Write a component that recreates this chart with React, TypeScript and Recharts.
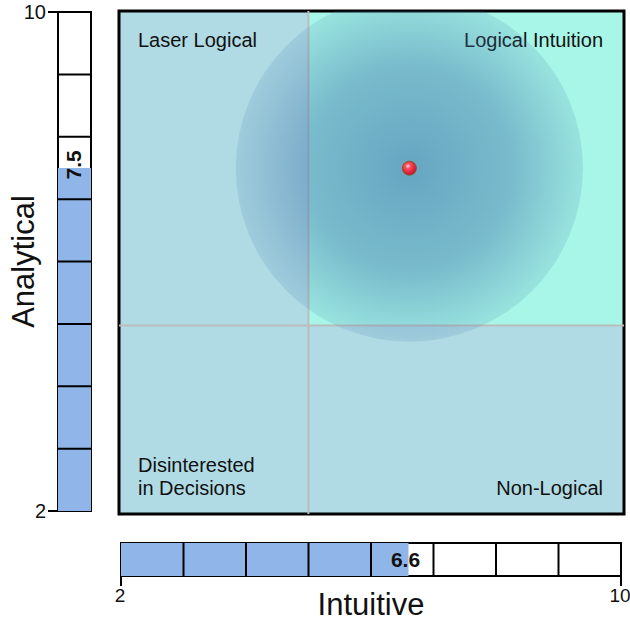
import React from 'react';
import {
  ScatterChart,
  Scatter,
  XAxis,
  YAxis,
  ReferenceArea,
  ReferenceLine,
  BarChart,
  Bar,
  LabelList,
  Label,
} from 'recharts';

// ---------- data ----------
const scaleDomain: [number, number] = [2, 10];
const scaleTicks = [2, 10];
const segmentBoundaries = [3, 4, 5, 6, 7, 8, 9];
const quadrantSplit = 5;
const intuitiveScore = 6.6;
const analyticalScore = 7.5;
const spreadRadius = 2.75;

const resultPoint = [{ intuitive: intuitiveScore, analytical: analyticalScore }];
const analyticalBar = [{ name: 'Analytical', value: analyticalScore }];
const intuitiveBar = [{ name: 'Intuitive', value: intuitiveScore }];

const quadrantNames = ['Laser Logical', 'Logical Intuition', 'Disinterested\nin Decisions', 'Non-Logical'];
const quadrantX = [[2, 5], [5, 10], [2, 5], [5, 10]];
const quadrantY = [[5, 10], [5, 10], [2, 5], [2, 5]];
const quadrantCorner = ['tl', 'tr', 'bl', 'br'];
const quadrantFill = ['#b0dbe4', '#a8f6e7', '#b0dbe4', '#b0dbe4'];

// ---------- layout ----------
const FONT = '"Liberation Sans", Arial, Helvetica, sans-serif';
const MAIN_W = 630;
const MAIN_H = 530;
const mainMargin = { top: 11, right: 6, bottom: 16, left: 119 };
const plotW = MAIN_W - mainMargin.left - mainMargin.right;
const pxPerUnit = plotW / (scaleDomain[1] - scaleDomain[0]);
const BAR_FILL = '#90b5e9';

const SpreadShape = (props: any) => {
  const { cx, cy } = props;
  const r = spreadRadius * pxPerUnit;
  return (
    <g>
      <defs>
        <radialGradient id="spreadGrad" cx="50%" cy="50%" r="50%">
          <stop offset="0" stopColor="#4278ad" stopOpacity={0.64} />
          <stop offset="0.6" stopColor="#4278ad" stopOpacity={0.46} />
          <stop offset="1" stopColor="#4278ad" stopOpacity={0.15} />
        </radialGradient>
      </defs>
      <circle cx={cx} cy={cy} r={r} fill="url(#spreadGrad)" />
    </g>
  );
};

const PointShape = (props: any) => {
  const { cx, cy } = props;
  return (
    <g>
      <defs>
        <radialGradient id="redBall" cx="40%" cy="35%" r="65%">
          <stop offset="0" stopColor="#ffe0e0" />
          <stop offset="0.3" stopColor="#ff4a5c" />
          <stop offset="1" stopColor="#c4102a" />
        </radialGradient>
      </defs>
      <circle cx={cx} cy={cy} r={7} fill="url(#redBall)" stroke="#8a5a2b" strokeWidth={1} />
    </g>
  );
};

const makeQuadLabel = (text: string, corner: string) => (props: any) => {
  const vb = props.viewBox || {};
  const lines = text.split('\n');
  const isLeft = corner[1] === 'l';
  const isTop = corner[0] === 't';
  const x = isLeft ? vb.x + 19 : vb.x + vb.width - 21;
  const lineH = 23;
  const baseY = isTop ? vb.y + 36 : vb.y + vb.height - 19 - (lines.length - 1) * lineH;
  return (
    <text
      x={x}
      y={baseY}
      textAnchor={isLeft ? 'start' : 'end'}
      fontFamily={FONT}
      fontSize={20}
      fill="#111"
    >
      {lines.map((l, i) => (
        <tspan key={i} x={x} y={baseY + i * lineH}>
          {l}
        </tspan>
      ))}
    </text>
  );
};

const VerticalValueLabel = (props: any) => {
  const { x, y, width, value } = props;
  const cx = Number(x) + Number(width) / 2 - 1;
  const cy = Number(y) - 3;
  return (
    <text
      x={cx}
      y={cy}
      transform={`rotate(-90 ${cx} ${cy})`}
      textAnchor="middle"
      dominantBaseline="central"
      fontFamily={FONT}
      fontWeight="bold"
      fontSize={21}
      fill="#111"
    >
      {value}
    </text>
  );
};

const HorizontalValueLabel = (props: any) => {
  const { x, y, width, height, value } = props;
  const cx = Number(x) + Number(width) - 3;
  const cy = Number(y) + Number(height) / 2;
  return (
    <text
      x={cx}
      y={cy}
      textAnchor="middle"
      dominantBaseline="central"
      fontFamily={FONT}
      fontWeight="bold"
      fontSize={21}
      fill="#111"
    >
      {value}
    </text>
  );
};

const AnalyticalTitle = (props: any) => {
  const vb = props.viewBox || {};
  const x = vb.x + 34;
  const y = vb.y + vb.height / 2;
  return (
    <text
      x={x}
      y={y}
      transform={`rotate(-90 ${x} ${y})`}
      textAnchor="middle"
      fontFamily={FONT}
      fontSize={31}
      fill="#111"
    >
      Analytical
    </text>
  );
};

const IntuitiveTitle = (props: any) => {
  const vb = props.viewBox || {};
  const x = vb.x + vb.width / 2;
  const y = vb.y + vb.height + 21;
  return (
    <text x={x} y={y} textAnchor="middle" fontFamily={FONT} fontSize={31} fill="#111">
      Intuitive
    </text>
  );
};

const tickStyle = { fill: '#111', fontSize: 20, fontFamily: FONT };
const bottomTickStyle = { fill: '#111', fontSize: 19, fontFamily: FONT, dx: -1 };
const tickLineStyle = { stroke: '#000', strokeWidth: 2 };

export default function App() {
  return (
    <div style={{ position: 'absolute', left: 0, top: 0, width: 630, height: 621, fontFamily: FONT, background: '#fff' }}>
      {/* Left vertical bar: Analytical */}
      <div style={{ position: 'absolute', left: 0, top: 0 }}>
        <BarChart
          width={100}
          height={530}
          data={analyticalBar}
          margin={{ top: 12, right: 9, bottom: 19, left: 0 }}
          barCategoryGap={0}
        >
          <XAxis dataKey="name" type="category" hide />
          <YAxis
            type="number"
            domain={scaleDomain}
            ticks={scaleTicks}
            interval={0}
            width={58}
            axisLine={false}
            tickSize={10}
            tickLine={tickLineStyle}
            tick={tickStyle}
          >
            <Label content={AnalyticalTitle} />
          </YAxis>
          <Bar dataKey="value" fill={BAR_FILL} isAnimationActive={false}>
            <LabelList dataKey="value" content={VerticalValueLabel} />
          </Bar>
          {segmentBoundaries.map((v) => (
            <ReferenceLine key={v} y={v} stroke="#000" strokeWidth={2} />
          ))}
          <ReferenceArea y1={scaleDomain[0]} y2={scaleDomain[1]} fill="none" stroke="#000" strokeWidth={2} />
        </BarChart>
      </div>

      {/* Main quadrant chart */}
      <div style={{ position: 'absolute', left: 0, top: 0 }}>
        <ScatterChart width={MAIN_W} height={MAIN_H} margin={mainMargin}>
          <XAxis type="number" dataKey="intuitive" domain={scaleDomain} hide allowDataOverflow />
          <YAxis type="number" dataKey="analytical" domain={scaleDomain} hide allowDataOverflow />
          {quadrantNames.map((name, i) => (
            <ReferenceArea
              key={name}
              x1={quadrantX[i][0]}
              x2={quadrantX[i][1]}
              y1={quadrantY[i][0]}
              y2={quadrantY[i][1]}
              fill={quadrantFill[i]}
              fillOpacity={1}
              stroke="none"
              label={makeQuadLabel(name, quadrantCorner[i])}
            />
          ))}
          <ReferenceLine x={quadrantSplit} stroke="#bcbcbc" strokeWidth={2} />
          <ReferenceLine y={quadrantSplit} stroke="#bcbcbc" strokeWidth={2} />
          <Scatter data={resultPoint} shape={SpreadShape} isAnimationActive={false} />
          <Scatter data={resultPoint} shape={PointShape} isAnimationActive={false} />
          <ReferenceArea
            x1={scaleDomain[0]}
            x2={scaleDomain[1]}
            y1={scaleDomain[0]}
            y2={scaleDomain[1]}
            fill="none"
            stroke="#000"
            strokeWidth={3}
          />
        </ScatterChart>
      </div>

      {/* Bottom horizontal bar: Intuitive */}
      <div style={{ position: 'absolute', left: 0, top: 530 }}>
        <BarChart
          layout="vertical"
          width={630}
          height={91}
          data={intuitiveBar}
          margin={{ top: 13, right: 9, bottom: 27, left: 121 }}
          barCategoryGap={0}
        >
          <XAxis
            type="number"
            domain={scaleDomain}
            ticks={scaleTicks}
            interval={0}
            height={18}
            axisLine={false}
            tickSize={10}
            tickMargin={3}
            tickLine={tickLineStyle}
            tick={bottomTickStyle}
          >
            <Label content={IntuitiveTitle} />
          </XAxis>
          <YAxis type="category" dataKey="name" hide />
          <Bar dataKey="value" fill={BAR_FILL} isAnimationActive={false}>
            <LabelList dataKey="value" content={HorizontalValueLabel} />
          </Bar>
          {segmentBoundaries.map((v) => (
            <ReferenceLine key={v} x={v} stroke="#000" strokeWidth={2} />
          ))}
          <ReferenceArea x1={scaleDomain[0]} x2={scaleDomain[1]} fill="none" stroke="#000" strokeWidth={2} />
        </BarChart>
      </div>
    </div>
  );
}
